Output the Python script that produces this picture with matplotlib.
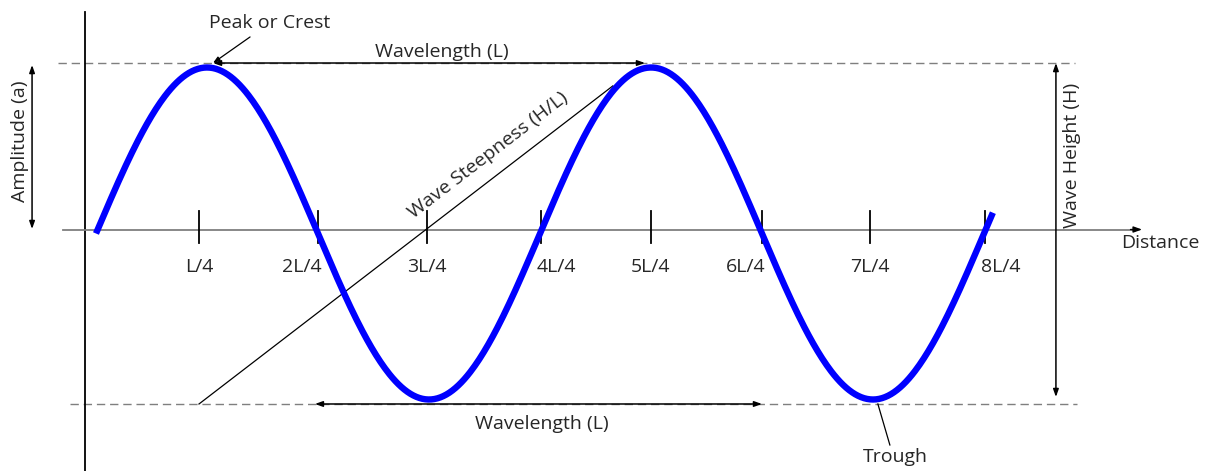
"""
Wave terminology diagram (sine wave with crest, trough, wavelength etc.)
"""
import numpy as np
import matplotlib.pyplot as plt

plt.rcParams['font.family'] = ['Open Sans', 'DejaVu Sans']

# wave: x in wavelengths (L), y in amplitudes (a)
wave_start = 0.0
wave_end = 2.02
wavelength = 1.0
amplitude = 1.0

tick_pos = [0.232, 0.5, 0.745, 1.002, 1.25, 1.5, 1.743, 2.002]
tick_labels = ["L/4", "2L/4", "3L/4", "4L/4", "5L/4", "6L/4", "7L/4", "8L/4"]
label_shift = [0, -1, 0, 1, 0, -1, 0, 1]  # push labels off the curve

axis_y = 0.024
crest_y = 1.027
trough_y = -1.027

FS = 14
grey = "#7f7f7f"
txt = "#262626"

fig = plt.figure(figsize=(12.06, 4.71), dpi=100)
ax = fig.add_axes([0, 0, 1, 1])
ax.set_xlim(-0.2162, 2.5)
ax.set_ylim(-1.4307, 1.4066)
ax.axis("off")

# dashed crest / trough levels
ax.plot([-0.0856, 2.205], [crest_y, crest_y], color=grey, lw=1, ls=(0, (6, 3.5)))
ax.plot([-0.0586, 2.209], [trough_y, trough_y], color=grey, lw=1, ls=(0, (6, 3.5)))

# axes
ax.plot([-0.0248, -0.0248], [1.334, -1.45], color="black", lw=1.3)
ax.plot([-0.0743, 2.34], [axis_y, axis_y], color=grey, lw=1.3)
ax.annotate("", xy=(2.356, axis_y), xytext=(2.33, axis_y),
            arrowprops=dict(arrowstyle="-|>,head_length=0.5,head_width=0.18",
                            color="black", lw=1.0, shrinkA=0, shrinkB=0))
ax.text(2.309, -0.057, "Distance", fontsize=FS, ha="left", va="center", color=txt)

# ticks and labels
for x, lab, s in zip(tick_pos, tick_labels, label_shift):
    ax.plot([x, x], [axis_y + 0.112, axis_y - 0.08], color="black", lw=1.3)
    ax.annotate(lab, xy=(x, -0.202), xytext=(s * 11.5, 0), textcoords="offset points",
                fontsize=FS, ha="center", va="center", color=txt)

# steepness line
ax.plot([0.232, 1.164], [trough_y, 0.889], color="black", lw=0.9)
ax.text(0.883, 0.473, "Wave Steepness (H/L)", fontsize=FS, rotation=37.5,
        rotation_mode="anchor", ha="center", va="center", color=txt)

# the wave itself
x = np.linspace(wave_start, wave_end, 600)
y = amplitude * np.sin(2 * np.pi * x / wavelength)
ax.plot(x, y, color="#0000ff", lw=4.6, solid_capstyle="butt")

arr = dict(arrowstyle="<|-|>,head_length=0.45,head_width=0.16", color="black",
           lw=1.1, shrinkA=0, shrinkB=0)

# wavelength arrows
ax.annotate("", xy=(1.2365, crest_y), xytext=(0.2635, crest_y), arrowprops=arr)
ax.text(0.779, 1.093, "Wavelength (L)", fontsize=FS, ha="center", va="center", color=txt)
ax.annotate("", xy=(1.5, trough_y), xytext=(0.493, trough_y), arrowprops=arr)
ax.text(1.0045, -1.1476, "Wavelength (L)", fontsize=FS, ha="center", va="center", color=txt)

# amplitude
ax.annotate("", xy=(-0.144, 1.015), xytext=(-0.144, 0.027), arrowprops=arr)
ax.text(-0.171, 0.557, "Amplitude (a)", fontsize=FS, rotation=90, ha="center", va="center",
        color=txt)

# wave height
ax.annotate("", xy=(2.162, crest_y), xytext=(2.162, -0.985), arrowprops=arr)
ax.text(2.198, 0.473, "Wave Height (H)", fontsize=FS, rotation=90, ha="center", va="center",
        color=txt)

# crest and trough callouts
ax.annotate("", xy=(0.2635, crest_y), xytext=(0.347, 1.184),
            arrowprops=dict(arrowstyle="-|>,head_length=0.4,head_width=0.14", color="black",
                            lw=0.9, shrinkA=0, shrinkB=0))
ax.text(0.39, 1.268, "Peak or Crest", fontsize=FS, ha="center", va="center", color=txt)
ax.plot([1.761, 1.788], [trough_y, -1.274], color="black", lw=0.9)
ax.text(1.7995, -1.346, "Trough", fontsize=FS, ha="center", va="center", color=txt)

fig.savefig("out.png", dpi=100)
